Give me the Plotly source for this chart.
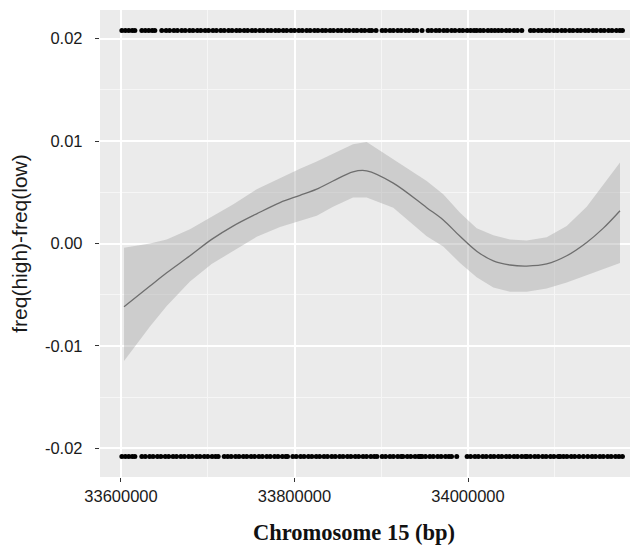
import plotly.graph_objects as go

# SNP positions (kb) for the two groups
top_kb = [33601, 33605, 33609, 33613, 33616,
          33624, 33628, 33632, 33636, 33639,
          33647, 33652, 33656, 33661, 33665, 33670, 33674, 33679, 33683, 33688, 33692, 33697,
          33701, 33706, 33710, 33715, 33719, 33724, 33728, 33733, 33737, 33742, 33746, 33751,
          33755, 33760, 33764, 33769, 33773, 33778, 33782, 33787, 33791, 33796, 33800, 33805,
          33809, 33814, 33818, 33823, 33827, 33832, 33836, 33841, 33845, 33850, 33854, 33859,
          33863, 33868, 33872, 33877, 33881, 33886, 33889,
          33894,
          33901, 33905, 33910, 33914, 33919, 33923, 33928, 33932, 33937, 33941, 33947,
          33954, 33958, 33963, 33967, 33972, 33976, 33981, 33985, 33990, 33994, 33999, 34003,
          34007, 34010,
          34014, 34018, 34023, 34027, 34031, 34035, 34039,
          34044, 34048, 34053, 34057, 34062,
          34072, 34076, 34081, 34085, 34090, 34094, 34099, 34103, 34108, 34112, 34117, 34121,
          34126, 34130, 34135, 34139, 34144, 34148, 34153, 34157, 34162, 34166, 34171, 34175, 34178]

bottom_kb = [33601, 33605, 33609, 33613, 33616,
             33624, 33628, 33633, 33637, 33642, 33646, 33651, 33655, 33660, 33664, 33669, 33673,
             33678, 33682, 33687, 33691, 33696, 33700, 33705, 33709, 33712,
             33719,
             33723, 33727, 33732, 33736, 33741, 33745, 33750, 33754, 33759, 33763, 33768, 33772,
             33777, 33781, 33786, 33790, 33792,
             33798, 33802, 33807, 33811, 33816, 33820, 33825, 33829, 33834, 33838, 33843, 33847,
             33852, 33856, 33861, 33865, 33870, 33874, 33879, 33883, 33888, 33892, 33895,
             33901, 33905, 33910, 33914, 33919, 33923, 33925,
             33930, 33934, 33939, 33943, 33945,
             33947, 33951, 33956, 33960, 33965, 33969, 33974, 33978, 33981,
             33987,
             33999, 34003, 34008, 34012, 34017, 34021, 34026, 34030, 34035, 34039, 34044, 34048,
             34053, 34057, 34062, 34066,
             34068, 34072, 34077, 34081, 34086, 34090, 34095, 34099, 34104, 34106,
             34110,
             34114, 34119, 34123, 34128, 34133,
             34138, 34143, 34147, 34152, 34156, 34161, 34165, 34170, 34174, 34178]

top_val = 0.0208
bottom_val = -0.0208

# Smoothed fit with confidence band
fit_kb = [33603.5, 33633.4, 33652.7, 33679.5, 33704.5, 33729.1, 33756.4, 33783.3, 33806.3,
          33825.6, 33844.4, 33867.4, 33883.2, 33913.9, 33952.4, 33971.5, 33990.8, 34010.0,
          34029.2, 34048.4, 34067.7, 34090.7, 34113.8, 34136.8, 34156.0, 34175.2]
fit = [-0.00618, -0.00416, -0.00286, -0.0012, 0.0004, 0.0017, 0.0029, 0.0040, 0.0047,
       0.0053, 0.0061, 0.0070, 0.0071, 0.0059, 0.0035, 0.0023, 0.0007, -0.00075,
       -0.0017, -0.0021, -0.0022, -0.0020, -0.0012, 0.0001, 0.0015, 0.0032]
upper = [-0.00042, 0.0000, 0.0004, 0.0014, 0.0026, 0.0038, 0.0053, 0.0064, 0.0073,
         0.0080, 0.0088, 0.0097, 0.0099, 0.0082, 0.0061, 0.0048, 0.0030, 0.0015,
         0.0008, 0.0004, 0.0003, 0.0006, 0.0017, 0.0036, 0.0058, 0.0079]
lower = [-0.01148, -0.0081, -0.0061, -0.0037, -0.0020, -0.00075, 0.00065, 0.0016, 0.0022,
         0.0027, 0.0036, 0.0045, 0.0045, 0.0035, 0.0007, -0.0003, -0.0019, -0.0033,
         -0.0043, -0.0047, -0.0047, -0.0044, -0.0038, -0.0031, -0.0025, -0.0019]

x_ticks = [33600000, 33800000, 34000000]
y_ticks = [-0.02, -0.01, 0.00, 0.01, 0.02]
y_tick_text = ["-0.02", "-0.01", "0.00", "0.01", "0.02"]

fit_x = [v * 1000 for v in fit_kb]
top_x = [v * 1000 for v in top_kb]
bot_x = [v * 1000 for v in bottom_kb]

fig = go.Figure()
fig.add_trace(go.Scatter(x=fit_x + fit_x[::-1], y=upper + lower[::-1], fill="toself",
                         fillcolor="rgba(160,160,160,0.4)", line=dict(width=0),
                         mode="lines", hoverinfo="skip", showlegend=False))
fig.add_trace(go.Scatter(x=fit_x, y=fit, mode="lines", line=dict(color="#6e6e6e", width=1.3, shape="spline"),
                         showlegend=False))
fig.add_trace(go.Scatter(x=top_x, y=[top_val] * len(top_x), mode="markers",
                         marker=dict(color="black", size=5), showlegend=False))
fig.add_trace(go.Scatter(x=bot_x, y=[bottom_val] * len(bot_x), mode="markers",
                         marker=dict(color="black", size=5), showlegend=False))

# page body has an 8px margin, so the figure is shifted by 8px; compensate
fig.update_layout(
    width=630, height=539,
    margin=dict(l=92, r=0, t=2, b=70),
    paper_bgcolor="white", plot_bgcolor="#EBEBEB",
    font=dict(family="Liberation Sans, Arial", color="#1a1a1a"),
    xaxis=dict(range=[33575800, 34195950], tickvals=x_ticks, ticktext=[str(v) for v in x_ticks],
               showgrid=True, gridcolor="white", gridwidth=1.6, zeroline=False,
               ticks="outside", ticklen=4, tickwidth=1.2, tickcolor="#333333",
               tickfont=dict(size=16.5, color="#1a1a1a"),
               minor=dict(tickvals=[33700000, 33900000, 34100000], showgrid=True,
                          gridcolor="#F6F6F6", gridwidth=0.8, ticks="")),
    yaxis=dict(range=[-0.0228, 0.0228], tickvals=y_ticks,
               ticktext=[t + "\u00a0\u00a0" for t in y_tick_text],
               showgrid=True, gridcolor="white", gridwidth=1.6, zeroline=False,
               ticks="outside", ticklen=4, tickwidth=1.2, tickcolor="#333333",
               tickfont=dict(size=16.5, color="#1a1a1a"),
               title=dict(text="freq(high)-freq(low)", font=dict(size=21, color="#1a1a1a"), standoff=12),
               minor=dict(tickvals=[-0.015, -0.005, 0.005, 0.015], showgrid=True,
                          gridcolor="#F6F6F6", gridwidth=0.8, ticks="")),
    annotations=[dict(text="<b>Chromosome 15 (bp)</b>", xref="paper", yref="paper",
                      x=(354 - 100) / 538, y=-0.118, xanchor="center", yanchor="middle", showarrow=False,
                      font=dict(family="Liberation Serif, Times New Roman", size=22.5, color="#111111"))],
)

fig.write_html("out.html")
